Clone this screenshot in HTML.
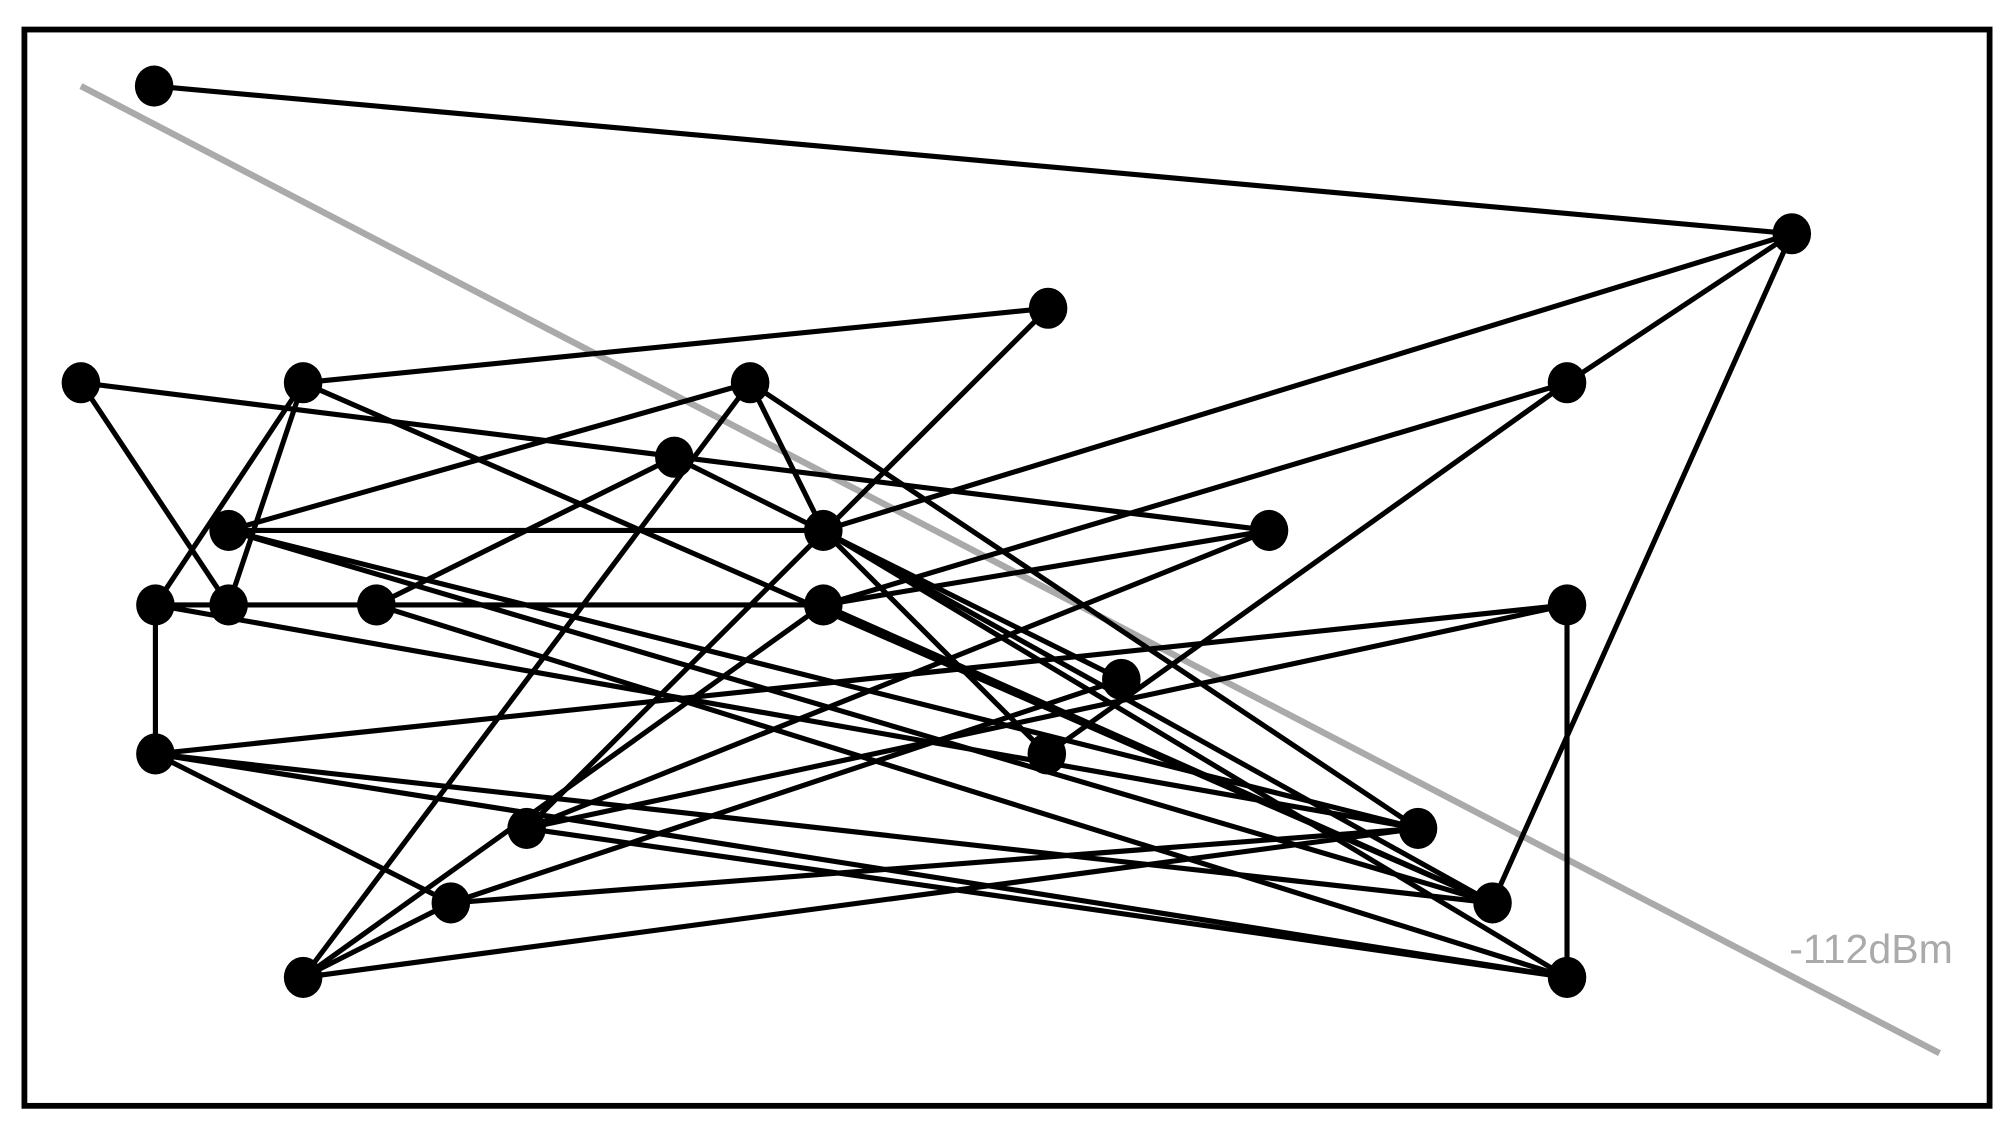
<!DOCTYPE html>
<html><head><meta charset="utf-8"><style>
html,body{margin:0;padding:0;background:#fff;}
svg{display:block;}
</style></head><body>
<svg width="2014" height="1131" viewBox="0 0 1568 880.6" preserveAspectRatio="none" xmlns="http://www.w3.org/2000/svg">
<rect x="0" y="0" width="1568" height="881" fill="#fff"/>
<rect x="19" y="23" width="1530" height="838" fill="none" stroke="#000" stroke-width="4.5"/>
<line x1="63" y1="67" x2="1510" y2="820" stroke="#aaa" stroke-width="5"/>
<text x="1393" y="750" font-family="Liberation Sans, sans-serif" font-size="32" fill="#aaa">-112dBm</text>
<g stroke="#000" stroke-width="4" fill="none">
<line x1="120" y1="67" x2="1395" y2="182"/>
<line x1="1395" y1="182" x2="641" y2="413"/>
<line x1="1395" y1="182" x2="1220" y2="298"/>
<line x1="1395" y1="182" x2="1162" y2="703"/>
<line x1="1220" y1="298" x2="815" y2="587"/>
<line x1="1220" y1="298" x2="641" y2="471"/>
<line x1="816" y1="240" x2="236" y2="298"/>
<line x1="816" y1="240" x2="410" y2="645"/>
<line x1="63" y1="298" x2="988" y2="413"/>
<line x1="63" y1="298" x2="178" y2="471"/>
<line x1="236" y1="298" x2="121" y2="471"/>
<line x1="236" y1="298" x2="178" y2="471"/>
<line x1="236" y1="298" x2="1162" y2="703"/>
<line x1="584" y1="298" x2="178" y2="413"/>
<line x1="584" y1="298" x2="236" y2="761"/>
<line x1="584" y1="298" x2="641" y2="413"/>
<line x1="584" y1="298" x2="1104" y2="645"/>
<line x1="525" y1="356" x2="293" y2="471"/>
<line x1="525" y1="356" x2="873" y2="529"/>
<line x1="641" y1="413" x2="815" y2="587"/>
<line x1="641" y1="413" x2="1162" y2="703"/>
<line x1="641" y1="413" x2="1220" y2="761"/>
<line x1="178" y1="413" x2="641" y2="413"/>
<line x1="178" y1="413" x2="1104" y2="645"/>
<line x1="178" y1="413" x2="1162" y2="703"/>
<line x1="988" y1="413" x2="641" y2="471"/>
<line x1="988" y1="413" x2="410" y2="645"/>
<line x1="121" y1="471" x2="641" y2="471"/>
<line x1="121" y1="471" x2="121" y2="587"/>
<line x1="121" y1="471" x2="1104" y2="645"/>
<line x1="293" y1="471" x2="1220" y2="761"/>
<line x1="641" y1="471" x2="236" y2="761"/>
<line x1="641" y1="471" x2="1162" y2="703"/>
<line x1="121" y1="587" x2="1220" y2="471"/>
<line x1="121" y1="587" x2="351" y2="703"/>
<line x1="121" y1="587" x2="1220" y2="761"/>
<line x1="121" y1="587" x2="1162" y2="703"/>
<line x1="1220" y1="471" x2="1220" y2="761"/>
<line x1="1220" y1="471" x2="410" y2="645"/>
<line x1="873" y1="529" x2="351" y2="703"/>
<line x1="351" y1="703" x2="1104" y2="645"/>
<line x1="351" y1="703" x2="236" y2="761"/>
<line x1="410" y1="645" x2="1220" y2="761"/>
<line x1="236" y1="761" x2="1104" y2="645"/>
</g>
<g fill="#000">
<ellipse cx="120" cy="67" rx="15" ry="16"/>
<ellipse cx="1395" cy="182" rx="15" ry="16"/>
<ellipse cx="816" cy="240" rx="15" ry="16"/>
<ellipse cx="63" cy="298" rx="15" ry="16"/>
<ellipse cx="236" cy="298" rx="15" ry="16"/>
<ellipse cx="584" cy="298" rx="15" ry="16"/>
<ellipse cx="1220" cy="298" rx="15" ry="16"/>
<ellipse cx="525" cy="356" rx="15" ry="16"/>
<ellipse cx="178" cy="413" rx="15" ry="16"/>
<ellipse cx="641" cy="413" rx="15" ry="16"/>
<ellipse cx="988" cy="413" rx="15" ry="16"/>
<ellipse cx="121" cy="471" rx="15" ry="16"/>
<ellipse cx="178" cy="471" rx="15" ry="16"/>
<ellipse cx="293" cy="471" rx="15" ry="16"/>
<ellipse cx="641" cy="471" rx="15" ry="16"/>
<ellipse cx="1220" cy="471" rx="15" ry="16"/>
<ellipse cx="873" cy="529" rx="15" ry="16"/>
<ellipse cx="815" cy="587" rx="15" ry="16"/>
<ellipse cx="121" cy="587" rx="15" ry="16"/>
<ellipse cx="410" cy="645" rx="15" ry="16"/>
<ellipse cx="1104" cy="645" rx="15" ry="16"/>
<ellipse cx="351" cy="703" rx="15" ry="16"/>
<ellipse cx="1162" cy="703" rx="15" ry="16"/>
<ellipse cx="236" cy="761" rx="15" ry="16"/>
<ellipse cx="1220" cy="761" rx="15" ry="16"/>
</g>
</svg>
</body></html>
